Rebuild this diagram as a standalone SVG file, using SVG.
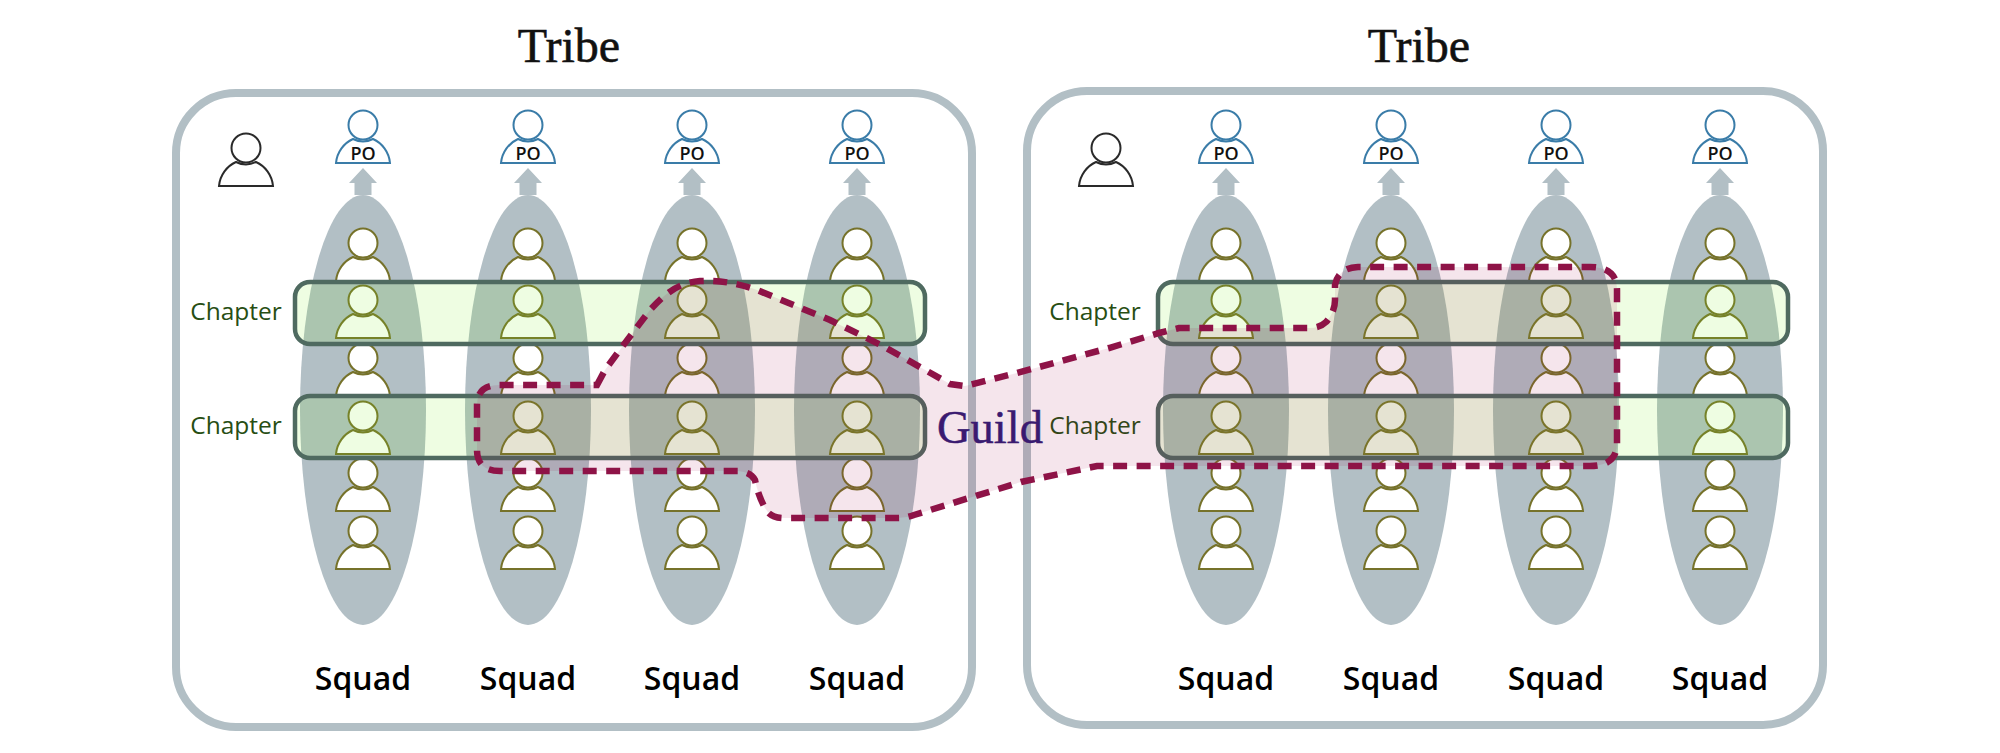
<svg xmlns="http://www.w3.org/2000/svg" width="2000" height="753" viewBox="0 0 2000 753">
<style>
.tribe{fill:#fff;stroke:#b2bfc5;stroke-width:8}
.squad{fill:#b2bfc5}
.arrow{fill:#b2bfc5}
.member{stroke:#76722a}
.po{stroke:#3a7ca8}
.boss{stroke:#2a2a2a}
.chapter{fill:#78f01e;fill-opacity:.13;stroke:#4f6a60;stroke-width:4.500}
.guild{fill:#9b0041;fill-opacity:.1;stroke:#8e1347;stroke-width:6.500;stroke-dasharray:14 9.500}
text{font-family:"Open Sans","Noto Sans","Liberation Sans",sans-serif}
.ttl{font-family:"Liberation Serif","Times New Roman",serif;font-size:48px;fill:#111;stroke:#111;stroke-width:.6;text-anchor:middle}
.sq{font-size:32px;font-weight:600;fill:#000;text-anchor:middle}
.ch{font-size:24.500px;font-weight:500;fill:#274e13;text-anchor:middle}
.polbl{font-size:18px;font-weight:600;fill:#111;text-anchor:middle}
.gl{font-family:"Liberation Serif","Times New Roman",serif;font-size:46.500px;fill:#3a1a70;stroke:#3a1a70;stroke-width:.5;text-anchor:middle}
</style>
<defs>
<g id="person" fill="#fff" stroke-width="2">
<path d="M-27 38C-26 27-19 18-10 14Q0 19 10 14C19 18 26 27 27 38Z"/>
<circle cx="0" cy="0" r="14.500"/>
</g>
<path id="up" d="M0 -27L14 -12H8.500V0H-8.500V-12H-14Z"/>
<g id="col">
<ellipse class="squad" cx="0" cy="410" rx="63" ry="215"/>
<use href="#person" class="member" y="243"/>
<use href="#person" class="member" y="300"/>
<use href="#person" class="member" y="358"/>
<use href="#person" class="member" y="416"/>
<use href="#person" class="member" y="473"/>
<use href="#person" class="member" y="531"/>
</g>
<g id="pohead">
<use href="#person" class="po" y="125"/>
<text class="polbl" x="0" y="159.500">PO</text>
<use href="#up" class="arrow" y="195"/>
</g>
</defs>
<rect width="2000" height="753" fill="#fff"/>
<g id="tribe-left">
<rect class="tribe" x="176" y="93" width="796" height="634" rx="60"/>
<text class="ttl" x="569" y="62">Tribe</text>
</g>
<g id="tribe-right">
<rect class="tribe" x="1027" y="91" width="796" height="634" rx="60"/>
<text class="ttl" x="1419" y="62">Tribe</text>
</g>
<g id="lead-left"><use href="#person" class="boss" x="246" y="148"/></g>
<g id="lead-right"><use href="#person" class="boss" x="1106" y="148"/></g>
<g id="squad-l1"><use href="#col" x="363"/><use href="#pohead" x="363"/><text class="sq" x="363" y="690">Squad</text></g>
<g id="squad-l2"><use href="#col" x="528"/><use href="#pohead" x="528"/><text class="sq" x="528" y="690">Squad</text></g>
<g id="squad-l3"><use href="#col" x="692"/><use href="#pohead" x="692"/><text class="sq" x="692" y="690">Squad</text></g>
<g id="squad-l4"><use href="#col" x="857"/><use href="#pohead" x="857"/><text class="sq" x="857" y="690">Squad</text></g>
<g id="squad-r1"><use href="#col" x="1226"/><use href="#pohead" x="1226"/><text class="sq" x="1226" y="690">Squad</text></g>
<g id="squad-r2"><use href="#col" x="1391"/><use href="#pohead" x="1391"/><text class="sq" x="1391" y="690">Squad</text></g>
<g id="squad-r3"><use href="#col" x="1556"/><use href="#pohead" x="1556"/><text class="sq" x="1556" y="690">Squad</text></g>
<g id="squad-r4"><use href="#col" x="1720"/><use href="#pohead" x="1720"/><text class="sq" x="1720" y="690">Squad</text></g>
<g id="chapter-l1"><rect class="chapter" x="295" y="282" width="630" height="62" rx="15"/><text class="ch" x="236" y="320">Chapter</text></g>
<g id="chapter-l2"><rect class="chapter" x="295" y="396" width="630" height="62" rx="15"/><text class="ch" x="236" y="434">Chapter</text></g>
<g id="chapter-r1"><rect class="chapter" x="1158" y="282" width="630" height="62" rx="15"/><text class="ch" x="1095" y="320">Chapter</text></g>
<g id="chapter-r2"><rect class="chapter" x="1158" y="396" width="630" height="62" rx="15"/><text class="ch" x="1095" y="434">Chapter</text></g>
<g id="guild">
<path class="guild" d="M597 385L605 370L622 347L650 310C665 294 677 283 700 281C722 280 740 284 757 290L830 320L881 345L950 384L965 386L1017 373L1109 348L1159 333L1179 328H1309Q1320 328 1326 322Q1335 312 1335 300V285Q1338 268 1358 267H1590Q1617 267 1617 290V443Q1617 466 1590 466H1200L1097 466L1021 482L914 515Q906 518 898 518H784Q770 518 765 508Q758 495 755 480Q751 472 738 471H500Q477 471 477 450V405Q477 385 500 385Z"/>
<text class="gl" x="990" y="443">Guild</text>
</g>
<g id="connectors"/>
</svg>
